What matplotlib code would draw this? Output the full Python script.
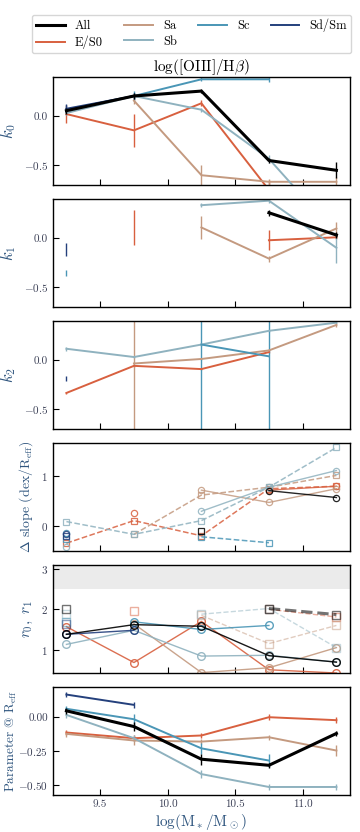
import numpy as np
import matplotlib
matplotlib.use("Agg")
import matplotlib.pyplot as plt

plt.rcParams['font.family'] = ['cmr10', 'DejaVu Serif']
plt.rcParams['mathtext.fontset'] = 'cm'
plt.rcParams['axes.formatter.use_mathtext'] = True
plt.rcParams['axes.unicode_minus'] = True

nan = np.nan

# ---------------- data ----------------
mass = [9.25, 9.75, 10.25, 10.75, 11.25]
types = ['All', 'E/S0', 'Sa', 'Sb', 'Sc', 'Sd/Sm']
colors = ['black', '#d8603f', '#c49a80', '#8fb2bf', '#4a96b6', '#24407c']
xticks = [9.5, 10.0, 10.5, 11.0]

# k0
k0_all = [0.057, 0.207, 0.257, -0.45, -0.55]
k0_es0 = [0.023, -0.143, 0.133, -0.75, nan]
k0_sa = [nan, 0.16, -0.60, -0.667, -0.667]
k0_sb = [0.033, 0.207, 0.067, -0.433, -1.2]
k0_sc = [0.067, 0.207, 0.377, 0.377, nan]
k0_sd = [0.077, 0.207, nan, nan, nan]
k0_err_all = [0.03, 0.03, 0.02, 0.03, 0.08]
k0_err_es0 = [0.09, 0.17, 0.03, 0.10, nan]
k0_err_sa = [nan, 0.03, 0.10, 0.03, 0.05]
k0_err_sb = [0.02, 0.02, 0.02, 0.04, 0.10]
k0_err_sc = [0.05, 0.05, 0.02, 0.03, nan]
k0_err_sd = [0.05, 0.03, nan, nan, nan]

# k1
k1_all = [nan, nan, nan, 0.26, 0.033]
k1_es0 = [nan, 0.107, nan, -0.02, 0.01]
k1_sa = [nan, nan, 0.11, -0.207, 0.10]
k1_sb = [nan, nan, 0.337, 0.383, -0.097]
k1_sc = [-0.353, nan, nan, nan, nan]
k1_sd = [-0.113, nan, nan, nan, nan]
k1_err_all = [nan, nan, nan, 0.03, 0.03]
k1_err_es0 = [nan, 0.18, nan, 0.10, 0.02]
k1_err_sa = [nan, nan, 0.12, 0.03, 0.07]
k1_err_sb = [nan, nan, 0.02, 0.02, 0.15]
k1_err_sc = [0.03, nan, nan, nan, nan]
k1_err_sd = [0.065, nan, nan, nan, nan]

# k2
k2_all = [nan, nan, nan, nan, nan]
k2_es0 = [-0.333, -0.057, -0.09, 0.083, nan]
k2_sa = [nan, -0.033, 0.013, 0.10, 0.36]
k2_sb = [0.117, 0.033, 0.16, 0.30, 0.383]
k2_sc = [nan, nan, 0.16, 0.04, nan]
k2_sd = [-0.19, nan, nan, nan, nan]
k2_err_all = [nan, nan, nan, nan, nan]
k2_err_es0 = [0.01, 0.01, 0.01, 0.01, nan]
k2_err_sa = [nan, 5.0, 0.01, 0.01, 0.02]
k2_err_sb = [0.02, 0.01, 0.01, 0.01, 0.01]
k2_err_sc = [nan, nan, 5.0, 5.0, nan]
k2_err_sd = [0.025, nan, nan, nan, nan]

# delta slope: circles (solid) and squares (dashed)
ds_c_all = [nan, nan, nan, 0.71, 0.57]
ds_c_es0 = [nan, 0.26, nan, 0.72, 0.80]
ds_c_sa = [nan, nan, 0.72, 0.47, 0.75]
ds_c_sb = [-0.44, nan, 0.29, 0.78, 1.12]
ds_c_sc = [-0.16, nan, nan, nan, nan]
ds_c_sd = [-0.18, nan, nan, nan, nan]
ds_s_all = [nan, nan, -0.12, nan, nan]
ds_s_es0 = [-0.36, 0.10, -0.21, 0.75, 0.80]
ds_s_sa = [nan, -0.18, 0.62, 0.78, 1.02]
ds_s_sb = [0.08, -0.18, 0.10, 0.78, 1.59]
ds_s_sc = [-0.27, nan, -0.23, -0.35, nan]
ds_s_sd = [-0.22, nan, nan, nan, nan]

# r0 (circles, solid) and r1 (squares, dashed)
r0_all = [1.38, 1.62, 1.58, 0.85, 0.69]
r0_es0 = [1.57, 0.68, 1.70, 0.50, 0.42]
r0_sa = [nan, 1.64, 0.43, 0.55, 1.05]
r0_sb = [1.13, 1.48, 0.84, 0.86, 0.69]
r0_sc = [nan, 1.69, 1.50, 1.60, nan]
r0_sd = [1.38, 1.48, nan, nan, nan]
r1_all = [2.02, nan, nan, 2.02, 1.87]
r1_es0 = [nan, 1.97, nan, 2.00, 1.81]
r1_sa = [nan, nan, 1.85, 1.15, 1.60]
r1_sb = [1.89, nan, 1.88, 2.02, 1.05]
r1_sc = [1.69, nan, nan, nan, nan]
r1_sd = [1.63, nan, nan, nan, nan]

# parameter at R_eff
pr_all = [0.047, -0.069, -0.31, -0.355, -0.12]
pr_es0 = [-0.113, -0.155, -0.135, 0.0, -0.022]
pr_sa = [-0.123, -0.172, -0.18, -0.148, -0.246]
pr_sb = [0.017, -0.155, -0.42, -0.515, -0.515]
pr_sc = [0.062, -0.015, -0.23, -0.32, nan]
pr_sd = [0.167, 0.091, nan, nan, nan]
pr_err_all = [0.02, 0.03, 0.04, 0.02, 0.02]
pr_err_es0 = [0.02, 0.02, 0.02, 0.02, 0.02]
pr_err_sa = [0.02, 0.03, 0.02, 0.02, 0.04]
pr_err_sb = [0.02, 0.02, 0.03, 0.02, 0.02]
pr_err_sc = [0.02, 0.04, 0.04, 0.05, nan]
pr_err_sd = [0.02, 0.02, nan, nan, nan]

# ---------------- figure ----------------
fig = plt.figure(figsize=(3.6, 8.32), dpi=100)
left, width, height = 0.147, 0.825, 0.1298
bottoms = [0.7776, 0.631, 0.4844, 0.3377, 0.1911, 0.0445]
axes = [fig.add_axes([left, b, width, height]) for b in bottoms]

label_col = '#2f557e'
tick_col = '#3a3f55'

def style(ax, ylabel, fs, pad=4):
    ax.set_xlim(9.15, 11.35)
    ax.set_xticks(xticks)
    ax.tick_params(direction='in', labelsize=8, colors='black', labelcolor=tick_col,
                   length=4, width=0.8)
    ax.set_ylabel(ylabel, fontsize=fs, color=label_col, labelpad=pad)
    for s in ax.spines.values():
        s.set_linewidth(1.0)

# panels 1-3
kdata = [
    ([k0_all, k0_es0, k0_sa, k0_sb, k0_sc, k0_sd],
     [k0_err_all, k0_err_es0, k0_err_sa, k0_err_sb, k0_err_sc, k0_err_sd], r'$k_0$'),
    ([k1_all, k1_es0, k1_sa, k1_sb, k1_sc, k1_sd],
     [k1_err_all, k1_err_es0, k1_err_sa, k1_err_sb, k1_err_sc, k1_err_sd], r'$k_1$'),
    ([k2_all, k2_es0, k2_sa, k2_sb, k2_sc, k2_sd],
     [k2_err_all, k2_err_es0, k2_err_sa, k2_err_sb, k2_err_sc, k2_err_sd], r'$k_2$'),
]
order = [1, 2, 3, 4, 5, 0]
handles = {}
for ax, (vals, errs, lab) in zip(axes[:3], kdata):
    for i in order:
        lw = 2.2 if i == 0 else 1.4
        eb = ax.errorbar(mass, vals[i], yerr=errs[i], color=colors[i], lw=lw,
                         elinewidth=1.0, capsize=0, zorder=3 if i == 0 else 2)
        handles[i] = eb.lines[0]
    ax.set_ylim(-0.7, 0.4)
    ax.set_yticks([0.0, -0.5])
    ax.set_yticklabels(['0.0', r'$-0.5$'])
    style(ax, lab, 12)
    ax.tick_params(labelbottom=False)

axes[0].set_title(r'$\log([\mathrm{OIII}]/\mathrm{H}\beta)$', fontsize=11, pad=3)

# panel 4: delta slope
ax = axes[3]
ds_c = [ds_c_all, ds_c_es0, ds_c_sa, ds_c_sb, ds_c_sc, ds_c_sd]
ds_s = [ds_s_all, ds_s_es0, ds_s_sa, ds_s_sb, ds_s_sc, ds_s_sd]
for i in order:
    ax.plot(mass, ds_s[i], ls='--', marker='s', ms=4.5, mfc='none', mew=0.9,
            color=colors[i], lw=1.1, alpha=0.85)
    ax.plot(mass, ds_c[i], ls='-', marker='o', ms=4.5, mfc='none', mew=0.9,
            color=colors[i], lw=1.0, alpha=0.85)
ax.set_ylim(-0.52, 1.68)
ax.set_yticks([0, 1])
style(ax, r'$\Delta$ slope (dex/R$_{\rm eff}$)', 10)
ax.tick_params(labelbottom=False)

# panel 5: r0, r1
ax = axes[4]
ax.axhspan(2.5, 3.5, color='#ebebeb', lw=0, zorder=0)
r0 = [r0_all, r0_es0, r0_sa, r0_sb, r0_sc, r0_sd]
r1 = [r1_all, r1_es0, r1_sa, r1_sb, r1_sc, r1_sd]
for i in order:
    dlw = 2.2 if i == 0 else 1.0
    ax.plot(mass, r1[i], ls='--', marker='s', ms=6, mfc='none', mew=1.0,
            color=colors[i], lw=dlw, alpha=0.5 if i != 0 else 0.55)
    ax.plot(mass, r0[i], ls='-', marker='o', ms=5.5, mfc='none', mew=1.0,
            color=colors[i], lw=1.0, alpha=0.9)
ax.set_ylim(0.42, 3.1)
ax.set_yticks([1, 2, 3])
style(ax, r'$r_0,\ r_1$', 11)
ax.tick_params(labelbottom=False)

# panel 6: parameter at R_eff
ax = axes[5]
pr = [pr_all, pr_es0, pr_sa, pr_sb, pr_sc, pr_sd]
pr_err = [pr_err_all, pr_err_es0, pr_err_sa, pr_err_sb, pr_err_sc, pr_err_sd]
for i in order:
    lw = 2.2 if i == 0 else 1.4
    ax.errorbar(mass, pr[i], yerr=pr_err[i], color=colors[i], lw=lw,
                elinewidth=1.0, capsize=0, zorder=3 if i == 0 else 2)
ax.set_ylim(-0.574, 0.223)
ax.set_yticks([0.0, -0.25, -0.5])
ax.set_yticklabels(['0.00', r'$-0.25$', r'$-0.50$'])
style(ax, r'Parameter $@$ R$_{\rm eff}$', 9.5)
ax.yaxis.set_label_coords(-0.115, 0.5)
ax.set_xticklabels(['9.5', '10.0', '10.5', '11.0'])
ax.set_xlabel(r'log(M$_*$/M$_\odot$)', fontsize=11, color=label_col, labelpad=2)

# legend
leg_handles = [handles[i] for i in range(6)]
fig.legend(leg_handles, types, loc='upper center', ncol=4,
           bbox_to_anchor=(0.532, 0.99), fontsize=9, frameon=True,
           handlelength=2.3, columnspacing=1.7, labelspacing=0.25,
           borderpad=0.35, fancybox=True)

fig.savefig('out.png', dpi=100)
